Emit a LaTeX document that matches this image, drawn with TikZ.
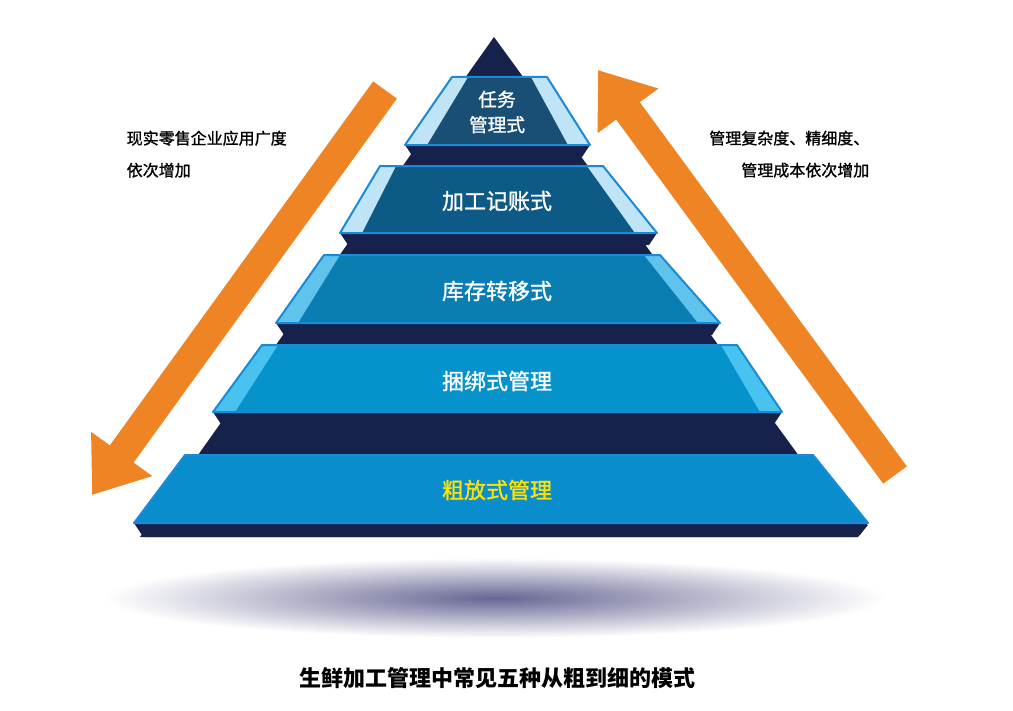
\documentclass[tikz,border=0pt]{standalone}
\usepackage{fontspec}
\newfontfamily\cjk{Noto Sans CJK SC}
\newfontfamily\cjkm[RawFeature={embolden=1.2}]{Noto Sans CJK SC}
\usetikzlibrary{arrows.meta,shapes.geometric}
\definecolor{navy}{HTML}{16214C}
\definecolor{edge}{HTML}{1B8AD6}
\definecolor{orng}{HTML}{EE8424}
\tikzset{
 band/.style={draw=edge,line width=1.5pt,line join=round},
 lbl/.style={font=\cjkm\fontsize{16.5}{19}\selectfont,text=white},
 side/.style={font=\cjkm\fontsize{12}{24}\selectfont,align=left},
 bigarrow/.style={draw=orng,line width=22pt,-{Triangle[width=54pt,length=38pt]}}
}
\begin{document}
\begin{tikzpicture}[x=0.75pt,y=-0.75pt]
\useasboundingbox (0,0) rectangle (1013,710);
% shadow
\shade[inner color=black!70!blue!60,outer color=white] (495,598) ellipse (390 and 40);
% dark pyramid
\fill[navy] (494,37) -- (858,537) -- (140,537) -- cycle;
\fill[navy] (140,525) -- (868,525) -- (858,537) -- (145,537) -- cycle;
\foreach \ty/\by/\txl/\txr/\bxl/\bxr/\c/\f in {
 77/145/452/547/405/590/1A4F75/BFE4F6,
 166/233/380/603/340/657/0D5A86/BFE4F6,
 255/323/324/660/276/720/0A7DB3/5FC3EC,
 345/412/262/737/213/782/0692CA/48C2EF,
 455/523/185/813/134/868/0A8DCD/0A8DCD}{
 \definecolor{bc}{HTML}{\c}\definecolor{fc}{HTML}{\f}
 \fill[navy] (\bxl,\by) -- (\bxr,\by) -- (\bxr-8,\by+12) -- (\bxl+8,\by+12) -- cycle;
 \fill[bc] (\txl,\ty) -- (\txr,\ty) -- (\bxr,\by) -- (\bxl,\by) -- cycle;
 \fill[fc] (\txl,\ty) -- (\txl+16,\ty) -- (\bxl+22,\by) -- (\bxl,\by) -- cycle;
 \fill[fc] (\txr,\ty) -- (\txr-16,\ty) -- (\bxr-22,\by) -- (\bxr,\by) -- cycle;
 \draw[band] (\txl,\ty) -- (\txr,\ty) -- (\bxr,\by) -- (\bxl,\by) -- cycle;
}
\node[lbl,align=center,font=\cjkm\fontsize{14}{19}\selectfont] (b1) at (497,112) {任务\\管理式};
\node[lbl] (b2) at (497,201) {加工记账式};
\node[lbl] (b3) at (497,291) {库存转移式};
\node[lbl] (b4) at (497,381) {捆绑式管理};
\node[lbl,text=yellow!85!orange] (b5) at (497,490) {粗放式管理};
% arrows
\coordinate (l0) at (385,90); \coordinate (l1) at (92,495);
\coordinate (r0) at (895,475); \coordinate (r1) at (598,70);
\draw[bigarrow] (l0) -- (l1);
\draw[bigarrow] (r0) -- (r1);
\node[side,anchor=north west] (lt) at (122,126) {现实零售企业应用广度\\依次增加};
\node[side,anchor=north east,align=right] (rt) at (874,126) {管理复杂度、精细度、\\管理成本依次增加};
\node[font=\cjk\bfseries\fontsize{16.5}{20}\selectfont] (cap) at (497,678) {生鲜加工管理中常见五种从粗到细的模式};
\end{tikzpicture}
\end{document}
